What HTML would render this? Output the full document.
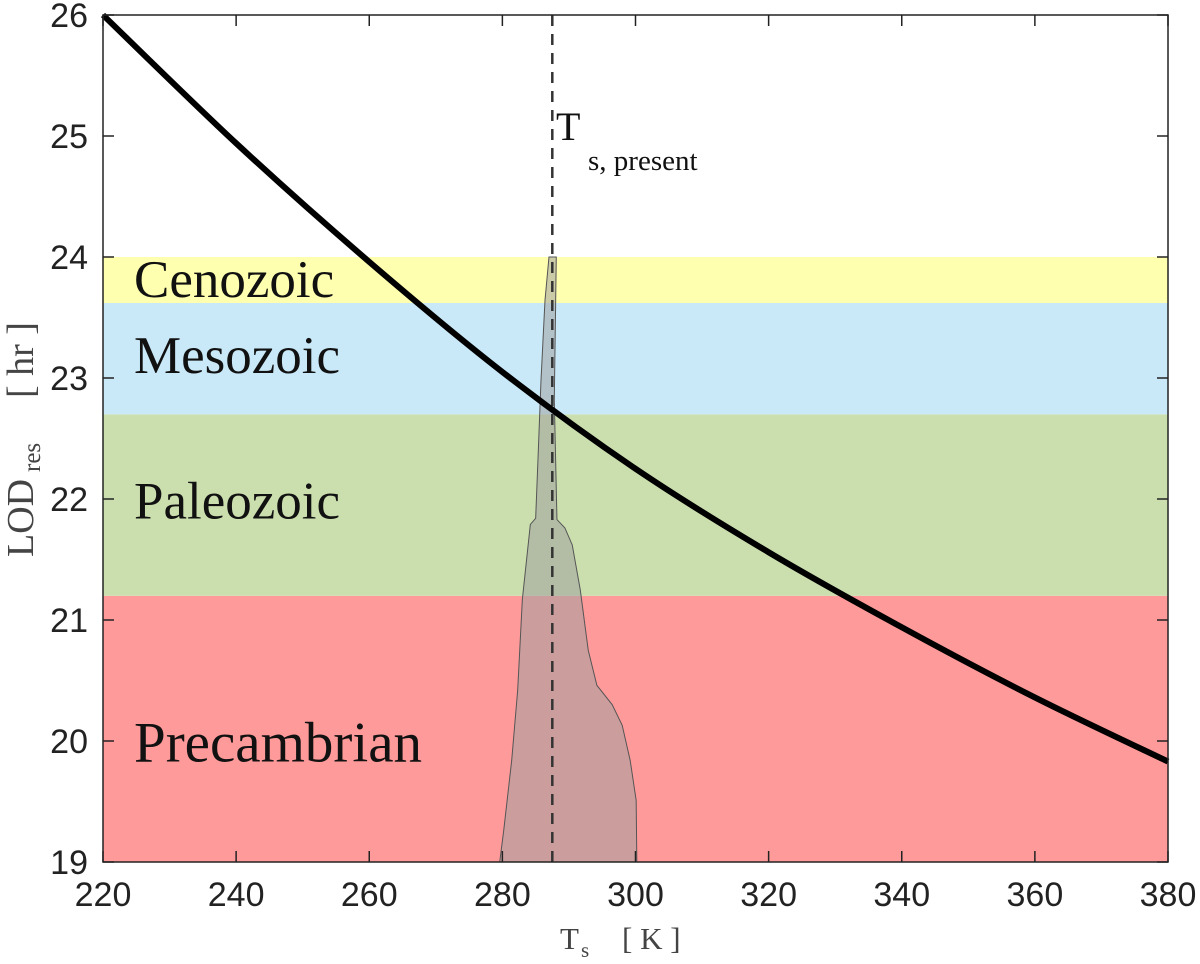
<!DOCTYPE html>
<html><head><meta charset="utf-8"><style>
html,body{margin:0;padding:0;background:#fff;}
svg{display:block;}
.tk{font-family:"Liberation Sans",sans-serif;font-size:34px;fill:#222;}
.sf{font-family:"Liberation Serif",serif;fill:#111;}
.ax{font-family:"Liberation Serif",serif;fill:#444;}
</style></head><body>
<svg id="chart" width="1200" height="964" viewBox="0 0 1200 964">
<g id="bands"></g>
<g id="marks"></g>
<g id="axes"></g>
<g id="labels"></g>
<text x="556" y="140" class="sf" font-size="40">T</text>
<text x="588" y="170" class="sf" font-size="29">s, present</text>
<g>
<text x="560" y="949" class="ax" font-size="31">T</text>
<text x="581" y="957" class="ax" font-size="21">s</text>
<text x="622" y="949" class="ax" font-size="31">[ K ]</text>
</g>
<g>
<text transform="translate(33,557) rotate(-90)" class="ax" font-size="38">LOD</text>
<text transform="translate(40,472) rotate(-90)" class="ax" font-size="25">res</text>
<text transform="translate(33,398) rotate(-90)" class="ax" font-size="38">[ hr ]</text>
</g>
</svg>
<script>
const eraNames=["Precambrian","Paleozoic","Mesozoic","Cenozoic"];
const eraLow=[19,21.2,22.7,23.62];
const eraHigh=[21.2,22.7,23.62,24];
const eraColors=["#ff9a9a","#cbdfae","#c9e9f8","#ffffb0"];
const eraLabelY=[19.83,21.84,23.04,23.67];
const curveT=[220,240,260,280,300,320,340,360,380];
const curveLOD=[26,24.94,23.96,23.05,22.25,21.56,20.94,20.36,19.83];
const shadeRightT=[288.1,287.8,288.2,289.4,290.5,291.7,292.9,294.2,296.5,298.0,299.2,300.1,300.2];
const shadeRightY=[24.0,22.82,21.83,21.76,21.62,21.25,20.75,20.46,20.30,20.13,19.84,19.51,19.0];
const shadeLeftT=[279.6,280.2,281.4,282.3,283.0,284.2,285.0,285.4,285.8,286.4,287.0];
const shadeLeftY=[19.0,19.26,19.84,20.42,21.17,21.79,21.84,22.40,22.98,23.64,24.0];
const presentT=287.5;
const xTicks=[220,240,260,280,300,320,340,360,380];
const yTicks=[19,20,21,22,23,24,25,26];
const X0=103,X1=1168,Y0=15,Y1=862;
const xs=v=>X0+(v-220)/(380-220)*(X1-X0);
const ys=v=>Y1-(v-19)/(26-19)*(Y1-Y0);
const NS="http://www.w3.org/2000/svg";
function mk(tag,attrs,parent){const e=document.createElementNS(NS,tag);for(const k in attrs)e.setAttribute(k,attrs[k]);parent.appendChild(e);return e;}
const bands=document.getElementById('bands'),marks=document.getElementById('marks'),axes=document.getElementById('axes'),labels=document.getElementById('labels');
eraNames.forEach((n,i)=>{
 const r=mk('rect',{x:X0,y:ys(eraHigh[i]),width:X1-X0,height:ys(eraLow[i])-ys(eraHigh[i]),fill:eraColors[i]},bands);
 
 
 const t=mk('text',{x:134,y:ys(eraLabelY[i]),'class':'sf','font-size':(i==0?57:53)},labels);
 t.textContent=n;
 
 
});
let pts=[];
shadeRightT.forEach((t,i)=>pts.push(xs(t)+','+ys(shadeRightY[i])));
shadeLeftT.forEach((t,i)=>pts.push(xs(t)+','+ys(shadeLeftY[i])));
const poly=mk('polygon',{points:pts.join(' '),fill:'rgba(160,160,160,0.55)',stroke:'#555','stroke-width':1},marks);


const dl=mk('line',{x1:xs(presentT),x2:xs(presentT),y1:Y0,y2:Y1,stroke:'#333','stroke-width':2.5,'stroke-dasharray':'11 8'},marks);


const P=curveT.map((t,i)=>[xs(t),ys(curveLOD[i])]);
let d='M'+P[0][0]+','+P[0][1];
for(let i=0;i<P.length-1;i++){const p0=P[Math.max(0,i-1)],p1=P[i],p2=P[i+1],p3=P[Math.min(P.length-1,i+2)];
 d+=' C'+(p1[0]+(p2[0]-p0[0])/6)+','+(p1[1]+(p2[1]-p0[1])/6)+' '+(p2[0]-(p3[0]-p1[0])/6)+','+(p2[1]-(p3[1]-p1[1])/6)+' '+p2[0]+','+p2[1];}
const cv=mk('path',{d:d,fill:'none',stroke:'#000','stroke-width':6},marks);


mk('rect',{x:X0,y:Y0,width:X1-X0,height:Y1-Y0,fill:'none',stroke:'#222','stroke-width':1.5},axes);
xTicks.forEach(v=>{
 mk('line',{x1:xs(v),x2:xs(v),y1:Y1,y2:Y1-11,stroke:'#222','stroke-width':1.5},axes);
 mk('line',{x1:xs(v),x2:xs(v),y1:Y0,y2:Y0+11,stroke:'#222','stroke-width':1.5},axes);
 const t=mk('text',{x:xs(v),y:Y1+44,'class':'tk','text-anchor':'middle'},axes);t.textContent=v;
 
 
});
yTicks.forEach(v=>{
 mk('line',{x1:X0,x2:X0+11,y1:ys(v),y2:ys(v),stroke:'#222','stroke-width':1.5},axes);
 mk('line',{x1:X1,x2:X1-11,y1:ys(v),y2:ys(v),stroke:'#222','stroke-width':1.5},axes);
 const t=mk('text',{x:X0-15,y:ys(v)+12,'class':'tk','text-anchor':'end'},axes);t.textContent=v;
 
 
});
</script>
</body></html>
